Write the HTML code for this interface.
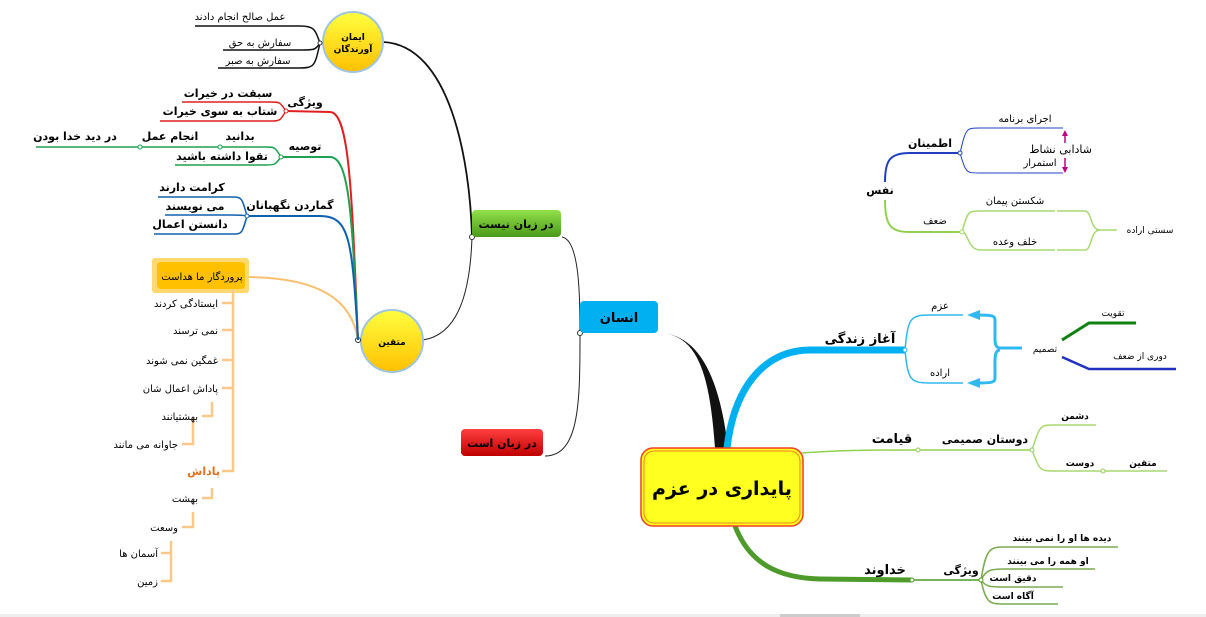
<!DOCTYPE html>
<html><head><meta charset="utf-8"><style>
html,body{margin:0;padding:0;background:#fff;width:1206px;height:617px;overflow:hidden}
svg{display:block}
text{font-family:"DejaVu Sans","Noto Sans CJK SC",sans-serif;fill:#000}
.s{font-size:10px}.m{font-size:11px;font-weight:bold}.b{font-size:13px;font-weight:bold}
</style></head><body>
<svg width="1206" height="617" viewBox="0 0 1206 617" xmlns="http://www.w3.org/2000/svg" fill="none">
<defs>
<linearGradient id="yg" x1="0" y1="0" x2="0" y2="1"><stop offset="0" stop-color="#ffff40"/><stop offset="1" stop-color="#ffc000"/></linearGradient>
<linearGradient id="gg" x1="0" y1="0" x2="0" y2="1"><stop offset="0" stop-color="#92e04a"/><stop offset="1" stop-color="#4a9a1a"/></linearGradient>
<linearGradient id="rg" x1="0" y1="0" x2="0" y2="1"><stop offset="0" stop-color="#ff4040"/><stop offset="1" stop-color="#c00000"/></linearGradient>
</defs>
<!-- main branches -->
<path d="M658 333 C700 333 710 380 715 448 L728 448 C720 380 700 333 658 333Z" fill="#111"/>
<path d="M727 448 C735 380 770 350 810 350 L905 350" stroke="#00b0f0" stroke-width="7"/>
<path d="M735 526 C750 565 780 578 820 579 L912 580" stroke="#4e9a2a" stroke-width="5"/>
<path d="M802 453 C840 450 880 450 918 450 L1032 450" stroke="#92d050" stroke-width="1.5"/>
<!-- insan links -->
<path d="M562 237 C580 240 580 300 580 333 C580 400 580 456 545 456" stroke="#222" stroke-width="1"/>
<path d="M472 237 C470 160 450 45 383 42" stroke="#111" stroke-width="1.8"/>
<path d="M472 237 C470 300 455 335 423 340" stroke="#222" stroke-width="1"/>
<circle cx="580" cy="333" r="2.5" fill="#fff" stroke="#333"/>
<circle cx="472" cy="237" r="2.5" fill="#fff" stroke="#333"/>
<!-- boxes -->
<rect x="580" y="301" width="78" height="32" rx="4" fill="#00b0f0"/>
<text x="619" y="322" class="b" text-anchor="middle">انسان</text>
<rect x="472" y="210" width="89" height="27" rx="4" fill="url(#gg)"/>
<text x="516" y="228" class="m" text-anchor="middle">در زبان نیست</text>
<rect x="461" y="429" width="82" height="27" rx="4" fill="url(#rg)"/>
<text x="502" y="447" class="m" text-anchor="middle">در زبان است</text>
<rect x="641" y="448" width="162" height="78" rx="12" fill="#ffff20" stroke="#f04020" stroke-width="1.5"/>
<rect x="644" y="451" width="156" height="72" rx="10" stroke="#f08020" stroke-width="1"/>
<text x="722" y="495" font-size="19" font-weight="bold" text-anchor="middle">پایداری در عزم</text>
<!-- iman circle -->
<circle cx="353" cy="42" r="30" fill="url(#yg)" stroke="#9ec4e0" stroke-width="2"/>
<text x="353" y="40" font-size="9" font-weight="bold" text-anchor="middle">ایمان</text>
<text x="353" y="52" font-size="9" font-weight="bold" text-anchor="middle">آورندگان</text>
<g stroke="#111" stroke-width="1.5">
<path d="M320 43 C315 30 315 26 300 26 L195 26"/>
<path d="M320 43 C315 50 315 50 300 50 L223 50"/>
<path d="M320 43 C315 65 315 68 300 68 L218 68"/>
</g>
<circle cx="320" cy="43" r="2" fill="#fff" stroke="#333"/>
<text x="240" y="20" class="s" text-anchor="middle">عمل صالح انجام دادند</text>
<text x="260" y="46" class="s" text-anchor="middle">سفارش به حق</text>
<text x="258" y="64" class="s" text-anchor="middle">سفارش به صبر</text>
<!-- mottaqin circle -->
<circle cx="392" cy="341" r="31" fill="url(#yg)" stroke="#9ec4e0" stroke-width="2"/>
<text x="392" y="345" font-size="9" font-weight="bold" text-anchor="middle">متقین</text>
<path d="M358 340 C352 300 320 278 249 277" stroke="#f8c070" stroke-width="2"/>
<circle cx="358" cy="340" r="2.5" fill="#fff" stroke="#333"/>
<path d="M358 340 C352 200 350 112 330 112 L286 111" stroke="#e02020" stroke-width="2"/>
<path d="M358 340 C352 220 350 157 330 157 L281 157" stroke="#20a050" stroke-width="2"/>
<path d="M358 340 C352 240 350 216 320 216 L247 216" stroke="#1060b0" stroke-width="2"/>
<g stroke="#e02020" stroke-width="1.5"><path d="M286 111 C280 102 280 102 270 102 L182 102"/><path d="M286 111 C280 121 280 121 270 121 L160 121"/></g>
<circle cx="286" cy="111" r="2" fill="#fff" stroke="#e02020"/>
<g stroke="#20a050" stroke-width="1.5"><path d="M281 157 C275 147 275 147 265 147 L36 147"/><path d="M281 157 C275 165 275 165 265 165 L175 165"/></g>
<circle cx="281" cy="157" r="2" fill="#fff" stroke="#20a050"/><circle cx="220" cy="147" r="2" fill="#fff" stroke="#20a050"/><circle cx="140" cy="147" r="2" fill="#fff" stroke="#20a050"/>
<g stroke="#1060b0" stroke-width="1.5"><path d="M247 216 C242 198 242 197 232 197 L158 197"/><path d="M247 216 C243 215 240 215 232 215 L165 215"/><path d="M247 216 C242 234 242 234 232 234 L154 234"/></g>
<circle cx="247" cy="216" r="2" fill="#fff" stroke="#1060b0"/>
<text x="305" y="106" class="m" text-anchor="middle">ویژگی</text>
<text x="228" y="97" class="m" text-anchor="middle">سبقت در خیرات</text>
<text x="220" y="115" class="m" text-anchor="middle">شتاب به سوی خیرات</text>
<text x="305" y="150" class="m" text-anchor="middle">توصیه</text>
<text x="240" y="140" class="m" text-anchor="middle">بدانید</text>
<text x="170" y="140" class="m" text-anchor="middle">انجام عمل</text>
<text x="75" y="140" class="m" text-anchor="middle">در دید خدا بودن</text>
<text x="222" y="160" class="m" text-anchor="middle">تقوا داشته باشید</text>
<text x="290" y="209" class="m" text-anchor="middle">گماردن نگهبانان</text>
<text x="192" y="191" class="m" text-anchor="middle">کرامت دارند</text>
<text x="195" y="210" class="m" text-anchor="middle">می نویسند</text>
<text x="190" y="228" class="m" text-anchor="middle">دانستن اعمال</text>
<!-- orange tree -->
<rect x="152" y="258" width="97" height="35" rx="3" fill="#ffd870"/>
<rect x="157" y="262" width="88" height="27" rx="4" fill="#ffc000"/>
<text x="202" y="280" class="s" text-anchor="middle">پروردگار ما هداست</text>
<g stroke="#fbc88a" stroke-width="2.5">
<path d="M233 290 L233 471 L222 471"/>
<path d="M233 303 L222 303 M233 330 L222 330 M233 360 L222 360 M233 388 L222 388"/>
<path d="M212 402 L212 416 L202 416 M193 418 L193 444 L182 444"/>
<path d="M212 488 L212 498 L202 498 M193 512 L193 527 L182 527 M171 541 L171 581 L161 581 M171 553 L161 553"/>
</g>
<text x="218" y="307" class="s" text-anchor="end">ایستادگی کردند</text>
<text x="218" y="334" class="s" text-anchor="end">نمی ترسند</text>
<text x="218" y="364" class="s" text-anchor="end">غمگین نمی شوند</text>
<text x="218" y="392" class="s" text-anchor="end">پاداش اعمال شان</text>
<text x="198" y="420" class="s" text-anchor="end">بهشتیانند</text>
<text x="178" y="448" class="s" text-anchor="end">جاوانه می مانند</text>
<text x="220" y="475" class="m" text-anchor="end" style="fill:#e07020">پاداش</text>
<text x="198" y="502" class="s" text-anchor="end">بهشت</text>
<text x="178" y="531" class="s" text-anchor="end">وسعت</text>
<text x="158" y="557" class="s" text-anchor="end">آسمان ها</text>
<text x="158" y="585" class="s" text-anchor="end">زمین</text>
<!-- nafs -->
<path d="M885 182 C885 160 890 153 910 153 L960 153" stroke="#2040c0" stroke-width="2"/>
<path d="M885 200 C885 225 890 232 910 232 L962 232" stroke="#92d050" stroke-width="2"/>
<text x="880" y="194" class="m" text-anchor="middle">نفس</text>
<text x="930" y="147" class="m" text-anchor="middle">اطمینان</text>
<text x="935" y="224" class="s" text-anchor="middle">ضعف</text>
<g stroke="#2040c0" stroke-width="1"><path d="M960 153 C966 128 966 128 980 128 L1063 128"/><path d="M960 153 C966 173 966 173 980 173 L1063 173"/></g>
<circle cx="960" cy="153" r="2" fill="#fff" stroke="#2040c0"/>
<text x="1025" y="122" class="s" text-anchor="middle">اجرای برنامه</text>
<text x="1040" y="166" class="s" text-anchor="middle">استمرار</text>
<text x="1092" y="153" font-size="11" text-anchor="end">شادابی نشاط</text>
<g stroke="#c00080" stroke-width="1.5"><path d="M1065 143 L1065 132"/><path d="M1065 158 L1065 170"/></g>
<path d="M1062 136 L1065 130 L1068 136Z M1062 167 L1065 173 L1068 167Z" fill="#c00080"/>
<g stroke="#a8d870" stroke-width="1.5"><path d="M962 232 C968 211 968 211 980 211 L1055 211 M1057 211 L1085 211 C1092 211 1090 230 1100 230 L1117 230 M1100 230 C1090 230 1092 250 1085 250 L1057 250 M1055 250 L980 250 C968 250 968 232 962 232"/></g>
<circle cx="962" cy="232" r="2" fill="#fff" stroke="#a8d870"/>
<text x="1015" y="204" class="s" text-anchor="middle">شکستن پیمان</text>
<text x="1015" y="245" class="s" text-anchor="middle">خلف وعده</text>
<text x="1150" y="233" font-size="9" text-anchor="middle">سستی اراده</text>
<!-- aghaz -->
<text x="860" y="343" class="b" text-anchor="middle">آغاز زندگی</text>
<g stroke="#30b8f0" stroke-width="1.5"><path d="M905 350 C908 318 910 315 930 315 L963 315"/><path d="M905 350 C908 380 910 383 930 383 L963 383"/></g>
<circle cx="905" cy="350" r="2" fill="#fff" stroke="#30b8f0"/>
<text x="940" y="309" class="s" text-anchor="middle">عزم</text>
<text x="940" y="376" class="s" text-anchor="middle">اراده</text>
<path d="M1022 348 L1000 348 C994 348 995 340 995 330 L995 320 C995 316 993 315 978 315 M1000 350 C994 350 995 360 995 370 L995 378 C995 382 993 383 978 383" stroke="#30b8f0" stroke-width="3"/>
<path d="M967 315 L980 310 L980 320Z M967 383 L980 378 L980 388Z" fill="#30b8f0"/>
<text x="1045" y="352" font-size="9" text-anchor="middle">تصمیم</text>
<path d="M1062 340 L1089 323 L1136 323" stroke="#108010" stroke-width="3"/>
<path d="M1062 357 L1089 369 L1176 369" stroke="#2030c0" stroke-width="2.5"/>
<text x="1113" y="316" font-size="9" text-anchor="middle">تقویت</text>
<text x="1140" y="359" font-size="9" text-anchor="middle">دوری از ضعف</text>
<!-- qiamat -->
<text x="892" y="443" class="b" text-anchor="middle">قیامت</text>
<text x="985" y="443" class="m" text-anchor="middle">دوستان صمیمی</text>
<g stroke="#a8d870" stroke-width="1.5"><path d="M1032 450 C1040 425 1040 425 1055 425 L1096 425"/><path d="M1032 450 C1040 471 1040 471 1055 471 L1167 471"/></g>
<circle cx="918" cy="450" r="2" fill="#fff" stroke="#92d050"/><circle cx="1032" cy="450" r="2" fill="#fff" stroke="#92d050"/><circle cx="1103" cy="471" r="2" fill="#fff" stroke="#92d050"/>
<text x="1075" y="419" font-size="9" font-weight="bold" text-anchor="middle">دشمن</text>
<text x="1080" y="466" font-size="9" font-weight="bold" text-anchor="middle">دوست</text>
<text x="1143" y="466" font-size="9" font-weight="bold" text-anchor="middle">متقین</text>
<!-- khodavand -->
<text x="885" y="574" class="b" text-anchor="middle">خداوند</text>
<path d="M912 580 L981 580" stroke="#4e9a2a" stroke-width="1.5"/>
<text x="961" y="574" class="m" text-anchor="middle">ویژگی</text>
<g stroke="#7aaa50" stroke-width="1.5"><path d="M981 580 C986 548 990 547 1005 547 L1118 547"/><path d="M981 580 C986 570 990 569 1005 569 L1095 569"/><path d="M981 580 C986 587 990 587 1005 587 L1063 587"/><path d="M981 580 C986 604 990 604 1005 604 L1058 604"/></g>
<circle cx="912" cy="580" r="2" fill="#fff" stroke="#4e9a2a"/><circle cx="981" cy="580" r="2" fill="#fff" stroke="#4e9a2a"/>
<text x="1062" y="541" font-size="9" font-weight="bold" text-anchor="middle">دیده ها او را نمی بینند</text>
<text x="1048" y="564" font-size="9" font-weight="bold" text-anchor="middle">او همه را می بینند</text>
<text x="1013" y="581" font-size="9" font-weight="bold" text-anchor="middle">دقیق است</text>
<text x="1013" y="599" font-size="9" font-weight="bold" text-anchor="middle">آگاه است</text>
<rect x="0" y="614" width="1206" height="3" fill="#eee"/>
<rect x="780" y="614" width="80" height="3" fill="#ccc"/>
</svg>
</body></html>
